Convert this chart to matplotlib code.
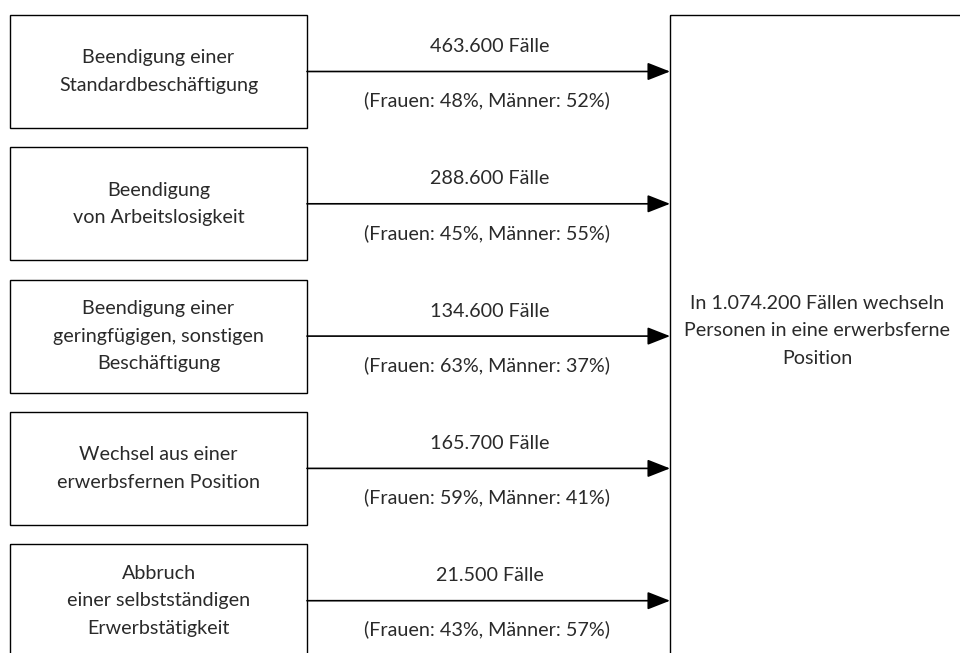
import matplotlib.pyplot as plt
from matplotlib.patches import Rectangle

# Data
sources = [
    "Beendigung einer\nStandardbeschäftigung",
    "Beendigung\nvon Arbeitslosigkeit",
    "Beendigung einer\ngeringfügigen, sonstigen\nBeschäftigung",
    "Wechsel aus einer\nerwerbsfernen Position",
    "Abbruch\neiner selbstständigen\nErwerbstätigkeit",
]
cases = ["463.600", "288.600", "134.600", "165.700", "21.500"]
women_pct = [48, 45, 63, 59, 43]
men_pct = [52, 55, 37, 41, 57]
target_label = "In 1.074.200 Fällen wechseln\nPersonen in eine erwerbsferne\nPosition"

plt.rcParams["font.family"] = ["Lato", "DejaVu Sans"]
TXT = "#2a2a2a"
FS = 14.2

fig = plt.figure(figsize=(9.6, 6.53), dpi=100)
ax = fig.add_axes([0, 0, 1, 1])
ax.set_xlim(0, 960)
ax.set_ylim(653, 0)
ax.axis("off")

box_x0, box_x1 = 10, 307
box_h = 113
step = 132.3
top0 = 15
target_x = 670

for i, label in enumerate(sources):
    top = top0 + i * step
    yc = top + box_h / 2
    ax.add_patch(Rectangle((box_x0, top), box_x1 - box_x0, box_h,
                           fill=False, lw=1.0, ec="black"))
    ax.text((box_x0 + box_x1) / 2, yc, label, ha="center", va="center",
            fontsize=FS, color=TXT, linespacing=1.75)
    ax.annotate("", xy=(target_x, yc), xytext=(box_x1, yc),
                arrowprops=dict(arrowstyle="-|>,head_length=1.4,head_width=0.55",
                                lw=1.2, color="black", shrinkA=0, shrinkB=0))
    mx = (box_x1 + target_x) / 2 - 2
    ax.text(mx + 3, yc - 25, f"{cases[i]} Fälle", ha="center", va="center",
            fontsize=FS, color=TXT)
    ax.text(mx, yc + 29, f"(Frauen: {women_pct[i]}%, Männer: {men_pct[i]}%)",
            ha="center", va="center", fontsize=FS, color=TXT)

ax.add_patch(Rectangle((target_x, 15), 400, 700, fill=False, lw=1.0, ec="black"))
ax.text(817, 331, target_label, ha="center", va="center",
        fontsize=FS, color=TXT, linespacing=1.75)

fig.savefig("out.png", dpi=100)
